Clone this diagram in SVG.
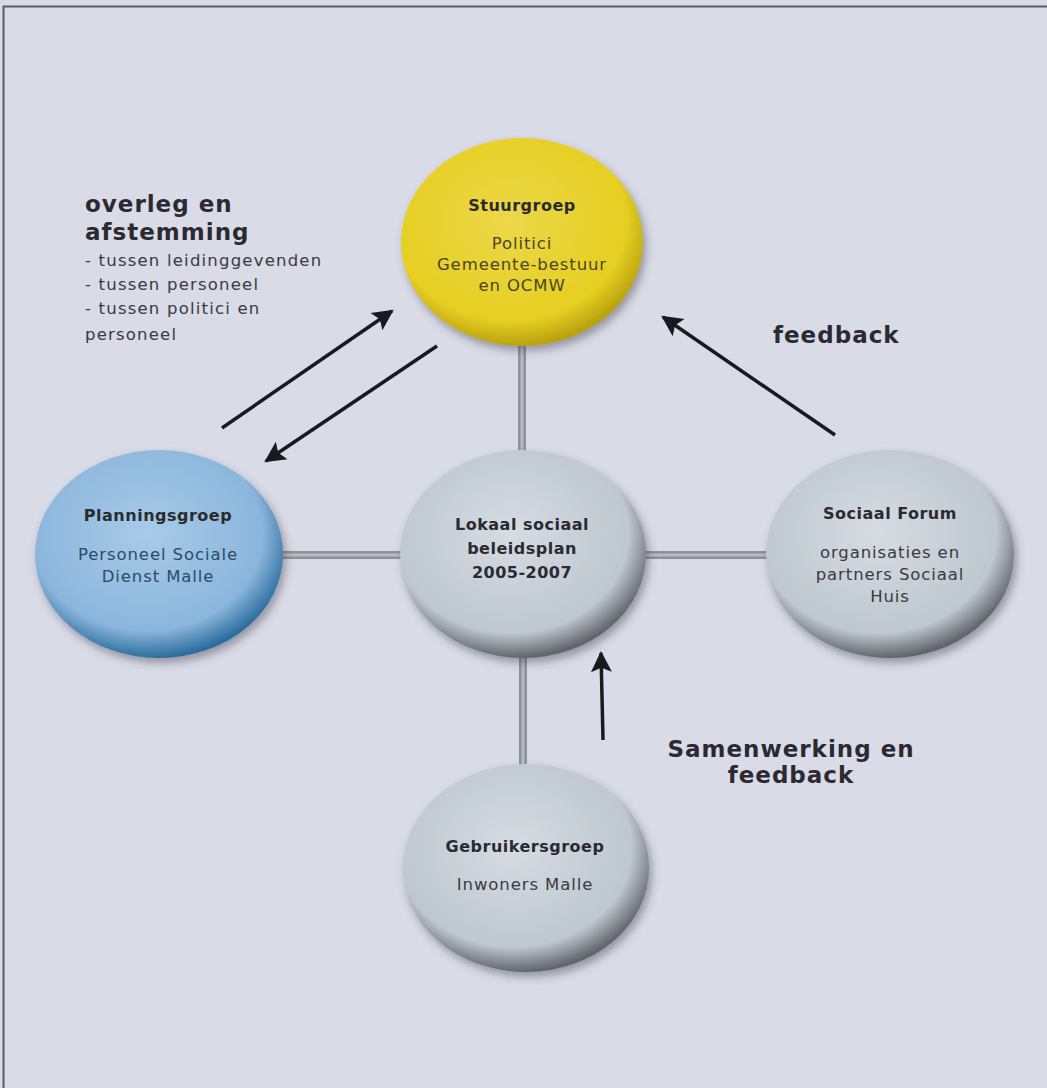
<svg xmlns="http://www.w3.org/2000/svg" width="1047" height="1088" viewBox="0 0 1047 1088">
<style>
.h{font-family:"DejaVu Sans","Open Sans",sans-serif;font-weight:700;fill:#2a2a30;text-anchor:middle;font-size:16px;letter-spacing:0.5px}
.t{font-family:"DejaVu Sans","Open Sans",sans-serif;font-weight:400;text-anchor:middle;font-size:16.5px;letter-spacing:0.9px}
.big{font-family:"DejaVu Sans","Open Sans",sans-serif;font-weight:700;fill:#2a2a30;font-size:23px;letter-spacing:1px}
.sm{font-family:"DejaVu Sans","Open Sans",sans-serif;font-size:16.5px;fill:#3a3a40;letter-spacing:1.2px}
.arr{stroke:#1a1a1e;stroke-width:3.5;fill:none;marker-end:url(#ah)}
</style>
<defs>
<marker id="ah" viewBox="0 0 10 10" refX="9" refY="5" markerWidth="7" markerHeight="6" orient="auto" markerUnits="strokeWidth">
<path d="M0,0 L10,5 L0,10 L2,5 z" fill="#1a1a1e"/>
</marker>
<radialGradient id="gy" cx="45%" cy="40%" r="60%">
<stop offset="0" stop-color="#ecd84a"/><stop offset="0.8" stop-color="#e6cf22"/><stop offset="1" stop-color="#b9a20e"/>
</radialGradient>
<radialGradient id="gb" cx="45%" cy="40%" r="60%">
<stop offset="0" stop-color="#a8cbe8"/><stop offset="0.78" stop-color="#8bb6dc"/><stop offset="1" stop-color="#2c6e9e"/>
</radialGradient>
<radialGradient id="gg" cx="45%" cy="40%" r="60%">
<stop offset="0" stop-color="#d5dce2"/><stop offset="0.8" stop-color="#bfc7cf"/><stop offset="1" stop-color="#62666c"/>
</radialGradient>
<filter id="sh" x="-20%" y="-20%" width="140%" height="140%">
<feDropShadow dx="3" dy="5" stdDeviation="4" flood-color="#40404a" flood-opacity="0.45"/>
</filter>
</defs>
<rect x="0" y="0" width="1047" height="1088" fill="#d9dbe7"/>
<path d="M3.5,1088 V6.5 H1047" fill="none" stroke="#5a5c66" stroke-width="2"/>

<g id="connectors">
<g stroke="#8e9298" stroke-width="8">
<line x1="522" y1="340" x2="522" y2="452"/>
<line x1="280" y1="555" x2="404" y2="555"/>
<line x1="644" y1="555" x2="768" y2="555"/>
<line x1="523" y1="656" x2="523" y2="768"/>
</g>
<g stroke="#b7bbc2" stroke-width="3">
<line x1="522" y1="340" x2="522" y2="452"/>
<line x1="280" y1="555" x2="404" y2="555"/>
<line x1="644" y1="555" x2="768" y2="555"/>
<line x1="523" y1="656" x2="523" y2="768"/>
</g>
<line class="arr" x1="222" y1="428" x2="392" y2="311"/>
<line class="arr" x1="437" y1="346" x2="266" y2="461"/>
<line class="arr" x1="835" y1="435" x2="663" y2="317"/>
<line class="arr" x1="603" y1="740" x2="601" y2="653"/>
</g>

<g id="stuurgroep">
<ellipse cx="522" cy="242" rx="121" ry="104" fill="url(#gy)" filter="url(#sh)"/>
<text class="h" x="522" y="211">Stuurgroep</text>
<text class="t" x="522" y="249" fill="#4a4420">Politici</text>
<text class="t" x="522" y="270" fill="#4a4420">Gemeente-bestuur</text>
<text class="t" x="522" y="291" fill="#4a4420">en OCMW</text>
</g>

<g id="planningsgroep">
<ellipse cx="159" cy="554" rx="124" ry="104" fill="url(#gb)" filter="url(#sh)"/>
<text class="h" x="158" y="521" fill="#233040">Planningsgroep</text>
<text class="t" x="158" y="560" fill="#2d4a66">Personeel Sociale</text>
<text class="t" x="158" y="582" fill="#2d4a66">Dienst Malle</text>
</g>

<g id="lokaal">
<ellipse cx="523" cy="554" rx="123" ry="104" fill="url(#gg)" filter="url(#sh)"/>
<text class="h" x="522" y="530" font-size="17">Lokaal sociaal</text>
<text class="h" x="522" y="554" font-size="17">beleidsplan</text>
<text class="h" x="522" y="578" font-size="17">2005-2007</text>
</g>

<g id="sociaalforum">
<ellipse cx="890" cy="554" rx="124" ry="104" fill="url(#gg)" filter="url(#sh)"/>
<text class="h" x="890" y="519">Sociaal Forum</text>
<text class="t" x="890" y="558" fill="#3a3a40">organisaties en</text>
<text class="t" x="890" y="580" fill="#3a3a40">partners Sociaal</text>
<text class="t" x="890" y="602" fill="#3a3a40">Huis</text>
</g>

<g id="gebruikersgroep">
<ellipse cx="526" cy="868" rx="123" ry="104" fill="url(#gg)" filter="url(#sh)"/>
<text class="h" x="525" y="852">Gebruikersgroep</text>
<text class="t" x="525" y="890" fill="#3a3a40">Inwoners Malle</text>
</g>

<g id="labels">
<text class="big" x="85" y="212">overleg en</text>
<text class="big" x="85" y="240">afstemming</text>
<text class="sm" x="85" y="266">- tussen leidinggevenden</text>
<text class="sm" x="85" y="290">- tussen personeel</text>
<text class="sm" x="85" y="314">- tussen politici en</text>
<text class="sm" x="85" y="340">personeel</text>
<text class="big" x="773" y="343">feedback</text>
<text class="big" x="791" y="757" text-anchor="middle">Samenwerking en</text>
<text class="big" x="791" y="783" text-anchor="middle">feedback</text>
</g>
</svg>
